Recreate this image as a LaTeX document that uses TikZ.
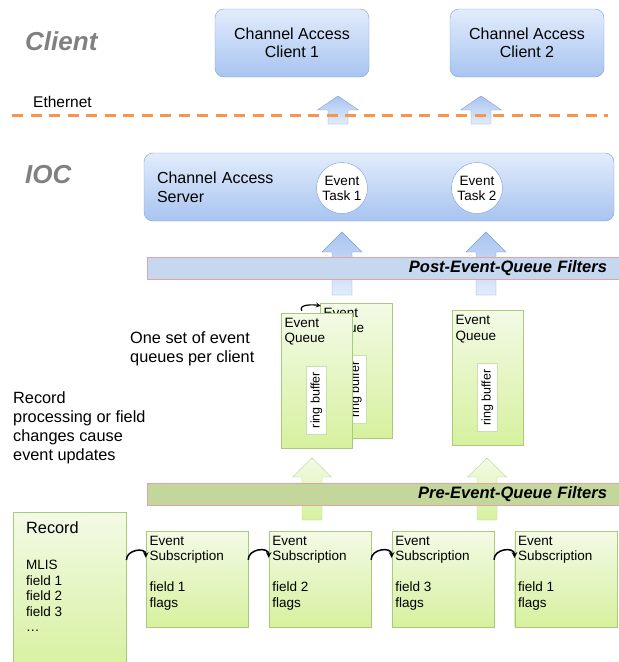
\documentclass[tikz,border=0pt]{standalone}
\usepackage{fontspec}
\setmainfont{Liberation Sans}
\usetikzlibrary{positioning}

\definecolor{blueTop}{HTML}{E2ECFC}
\definecolor{blueBot}{HTML}{A8C4F0}
\definecolor{blueLine}{HTML}{7E9FD4}
\definecolor{greenTop}{HTML}{F3FAE6}
\definecolor{greenBot}{HTML}{D6F19E}
\definecolor{greenLine}{HTML}{A9C97B}
\definecolor{postBand}{HTML}{C6D8F0}
\definecolor{preBand}{HTML}{C3D69B}
\definecolor{bandLine}{HTML}{E3A3A3}
\definecolor{ethLine}{HTML}{F7964A}
\definecolor{sideGray}{HTML}{808080}

\begin{document}
\begin{tikzpicture}[x=1pt, y=-1pt, node distance=20.5pt,
    blubox/.style={draw=blueLine, rounded corners=9pt, top color=blueTop, bottom color=blueBot,
                   align=center, font=\fontsize{16}{18.5}\selectfont},
    task/.style={circle, draw=blueLine, fill=white, minimum size=51pt, inner sep=0pt,
                 align=center, font=\fontsize{13.5}{15}\selectfont},
    band/.style={draw=bandLine, minimum width=472pt, inner xsep=12pt, text width=448pt,
                 align=right, font=\fontsize{16.5}{18}\selectfont\bfseries\itshape},
    grnbox/.style={draw=greenLine, top color=greenTop, bottom color=greenBot, inner sep=0pt},
    lbl/.style={anchor=north west, inner sep=3.5pt, yshift=-1.5pt, align=left,
                font=\fontsize{13.5}{15.5}\selectfont},
    queue/.style={grnbox, minimum width=71pt, minimum height=135pt,
                  label={[lbl]north west:{Event\\Queue}}},
    rbuf/.style={draw=greenLine!60, fill=white, rotate=90, minimum width=68pt,
                 minimum height=20pt, inner sep=0pt, font=\fontsize{12.5}{14}\selectfont},
    sub/.style={grnbox, minimum width=102pt, minimum height=96pt,
                label={[lbl]north west:{Event\\Subscription\\[15.5pt]#1\\flags}}},
    side/.style={anchor=west, inner sep=0pt, text=sideGray,
                 font=\fontsize{26}{30}\selectfont\bfseries\itshape},
    note/.style={anchor=west, inner sep=0pt, align=left, font=\fontsize{16.3}{19}\selectfont},
    curv/.style={->, >=stealth, line width=1.5pt, looseness=1.4},
    bluarr/.style={draw=blueLine, top color=blueBot, bottom color=blueTop},
    grnarr/.style={draw=greenLine!80, top color=greenTop, bottom color=greenBot}]
    \useasboundingbox (0,0) rectangle (619,662);

    % client side
    \node[side] (client) at (25,41) {Client};
    \node[blubox, minimum width=154pt, minimum height=68pt] (cli1) at (292,43) {Channel Access\\Client 1};
    \node[blubox, minimum width=154pt, minimum height=68pt] (cli2) at (527,43) {Channel Access\\Client 2};
    \node[note, font=\fontsize{15.5}{18}\selectfont] (eth) at (33,102) {Ethernet};

    % IOC side
    \node[side] (ioc) at (25,175) {IOC};
    \node[blubox, minimum width=470pt, minimum height=68pt, inner xsep=13pt, text width=444pt,
          align=left, font=\fontsize{16}{19}\selectfont] (cas) at (379,187) {Channel Access\\Server};
    \node[task] (task1) at (342,188) {Event\\Task 1};
    \node[task] (task2) at (477,188) {Event\\Task 2};

    % block arrows
    \foreach \cx/\yb/\yh/\yt/\hw/\sty in {338/124/110/96/20.5/bluarr, 481/124/110/96/20.5/bluarr,
                                          342/295/252/232/20/bluarr, 486/295/252/232/20/bluarr,
                                          312/520/477/458/19.5/grnarr, 487/520/477/458/19.5/grnarr}
        \draw[\sty] (\cx-10,\yb) -- (\cx-10,\yh) -- (\cx-\hw,\yh) -- (\cx,\yt)
                    -- (\cx+\hw,\yh) -- (\cx+10,\yh) -- (\cx+10,\yb) -- cycle;

    \draw[ethLine, line width=3pt, dash pattern=on 11pt off 7.5pt] (12,115) -- (608,115);

    \node[band, fill=postBand, minimum height=20pt] (post) at (383,268) {Post-Event-Queue Filters};
    \node[band, fill=preBand, minimum height=21pt] (pre) at (383,494.5) {Pre-Event-Queue Filters};

    % event queues
    \node[queue, minimum width=72pt] (q1b) at (356,370.5) {};
    \node[rbuf] (rb1b) at ([yshift=-19pt]q1b.center) {ring buffer};
    \node[queue] (q1) at (316.5,380.5) {};
    \node[rbuf] (rb1) at ([yshift=-19.5pt]q1.center) {ring buffer};
    \node[queue] (q2) at (487.5,378) {};
    \node[rbuf] (rb2) at ([yshift=-19.5pt]q2.center) {ring buffer};
    \draw[curv, line width=1.2pt, looseness=1] ([xshift=21pt,yshift=2pt]q1.north west) to[out=120,in=170]
        ([xshift=1pt,yshift=-3pt]q1b.north west);

    \node[note] (pernote) at (130,348.5) {One set of event\\queues per client};
    \node[note] (recnote) at (13,427.5) {Record\\processing or field\\changes cause\\event updates};

    % record and subscriptions
    \node[grnbox, minimum width=113pt, minimum height=158pt, anchor=north west] (rec) at (13,512) {};
    \node[note] (rectitle) at (26,528) {Record};
    \node[anchor=north west, inner sep=0pt, align=left, font=\fontsize{13.5}{15.5}\selectfont]
        (recfields) at (26,560) {MLIS\\field 1\\field 2\\field 3\\…};

    \node[sub=field 1] (s1) at (197,579) {};
    \node[sub=field 2, right=of s1] (s2) {};
    \node[sub=field 3, right=of s2] (s3) {};
    \node[sub=field 1, right=of s3] (s4) {};

    \draw[curv] ([yshift=-48pt]rec.north east) to[out=90,in=90] ([yshift=-27pt]s1.north west);
    \draw[curv] ([yshift=-29pt]s1.north east) to[out=90,in=90] ([yshift=-27pt]s2.north west);
    \draw[curv] ([yshift=-29pt]s2.north east) to[out=90,in=90] ([yshift=-27pt]s3.north west);
    \draw[curv] ([yshift=-29pt]s3.north east) to[out=90,in=90] ([yshift=-27pt]s4.north west);
\end{tikzpicture}
\end{document}
